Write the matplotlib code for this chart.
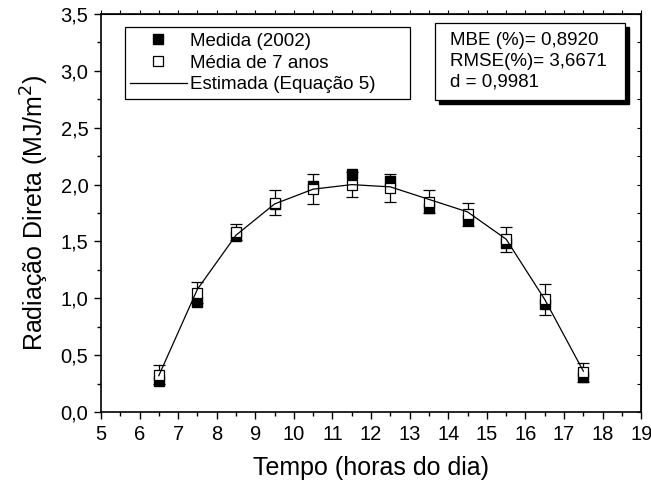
import numpy as np
import matplotlib
matplotlib.use("Agg")
import matplotlib.pyplot as plt
from matplotlib.patches import Rectangle
from matplotlib.ticker import MultipleLocator, FuncFormatter

plt.rcParams['font.family'] = ['Liberation Sans', 'DejaVu Sans']

# dados
hora = [6.5, 7.5, 8.5, 9.5, 10.5, 11.5, 12.5, 13.5, 14.5, 15.5, 16.5, 17.5]
medida = [0.27, 0.97, 1.55, 1.83, 1.99, 2.09, 2.03, 1.79, 1.69, 1.49, 0.95, 0.31]
media7 = [0.33, 1.05, 1.58, 1.84, 1.96, 2.00, 1.97, 1.85, 1.74, 1.52, 0.99, 0.35]
erro7 = [0.08, 0.095, 0.07, 0.11, 0.13, 0.11, 0.125, 0.10, 0.10, 0.11, 0.14, 0.085]
estimada = [0.32, 1.08, 1.555, 1.83, 1.96, 2.00, 1.98, 1.87, 1.76, 1.52, 0.99, 0.36]

fig = plt.figure(figsize=(6.51, 4.82), dpi=100)
ax = fig.add_axes([0.155, 0.145, 0.830, 0.826])

ax.plot(hora, medida, 's', color='black', markersize=6.5, label='Medida (2002)', zorder=3)
ax.errorbar(hora, media7, yerr=erro7, fmt='none', ecolor='black', elinewidth=0.9,
            capsize=4, capthick=0.9, zorder=2)
ax.plot(hora, media7, 's', markerfacecolor='white', markeredgecolor='black',
        markeredgewidth=0.9, markersize=6.5, label='Média de 7 anos', zorder=4)
ax.plot(hora, estimada, '-', color='black', linewidth=0.9,
        label='Estimada (Equação 5)', zorder=5)

ax.set_xlim(5, 19)
ax.set_ylim(0, 3.5)
ax.xaxis.set_major_locator(MultipleLocator(1))
ax.xaxis.set_minor_locator(MultipleLocator(0.5))
ax.yaxis.set_major_locator(MultipleLocator(0.5))
ax.yaxis.set_minor_locator(MultipleLocator(0.25))
ax.yaxis.set_major_formatter(FuncFormatter(lambda v, p: ('%.1f' % v).replace('.', ',')))
ax.tick_params(which='major', direction='out', length=5, width=1, labelsize=14.5, pad=4)
ax.tick_params(which='minor', direction='out', length=3, width=1)
for s in ax.spines.values():
    s.set_linewidth(1.2)

top = ax.secondary_xaxis('top')
top.xaxis.set_major_locator(MultipleLocator(0.5))
top.tick_params(which='major', direction='out', length=3, labeltop=False)
right = ax.secondary_yaxis('right')
right.yaxis.set_major_locator(MultipleLocator(0.25))
right.tick_params(which='major', direction='in', length=3, labelright=False)

ax.set_xlabel('Tempo (horas do dia)', fontsize=18, labelpad=9)
ax.set_ylabel('Radiação Direta (MJ/m$^2$)', fontsize=18, labelpad=7)

leg = ax.legend(loc='upper left', bbox_to_anchor=(0.044, 0.784, 0.528, 0.183),
                mode='expand', fontsize=13.5,
                frameon=True, fancybox=False, edgecolor='black', framealpha=1,
                borderpad=0.3, labelspacing=0.25, handlelength=3.0, handletextpad=0.2,
                borderaxespad=0)
leg.get_frame().set_linewidth(0.9)

# caixa de estatisticas com sombra
x0, y0, w, h = 0.619, 0.784, 0.351, 0.193
dx, dy = 4 / 540, 4 / 398
ax.add_patch(Rectangle((x0 + dx, y0 - dy), w, h, transform=ax.transAxes,
                       facecolor='black', edgecolor='black', zorder=6))
ax.add_patch(Rectangle((x0, y0), w, h, transform=ax.transAxes,
                       facecolor='white', edgecolor='black', linewidth=0.9, zorder=7))
ax.text(x0 + 0.028, y0 + h / 2, 'MBE (%)= 0,8920\nRMSE(%)= 3,6671\nd = 0,9981',
        transform=ax.transAxes, fontsize=13.5, va='center', ha='left',
        linespacing=1.3, zorder=8)

fig.savefig('out.png', dpi=100)
